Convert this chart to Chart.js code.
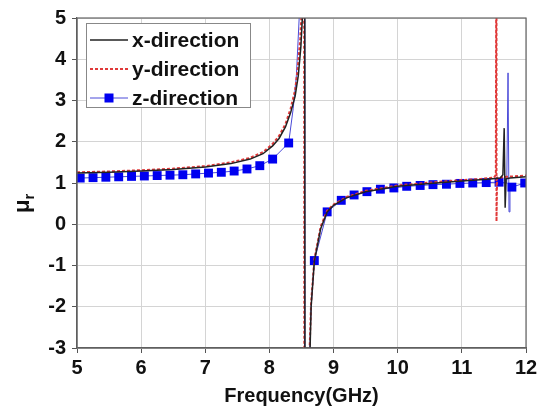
<!DOCTYPE html>
<html>
<head>
<meta charset="utf-8">
<script src="https://cdn.jsdelivr.net/npm/chart.js@4.4.1/dist/chart.umd.min.js"></script>
<style>
  html, body { margin: 0; padding: 0; background: #fff; }
  #wrap { width: 549px; height: 410px; }
</style>
</head>
<body>
<div id="wrap"><canvas id="mu" width="549" height="410"></canvas></div>
<script>
// x-direction (black solid)
const xFreq = [5.0, 5.5, 6.0, 6.5, 7.0, 7.4, 7.7, 7.9, 8.05, 8.15, 8.25, 8.33, 8.4, 8.45, 8.49, 8.52, 8.55, 8.555,
    8.61, 8.65, 8.7, 8.8, 8.9, 9.0, 9.2, 9.5, 10.0, 10.5, 11.0, 11.4, 11.6, 11.64, 11.66, 11.675, 11.69, 11.75, 12.0];
const xMu = [1.24, 1.26, 1.29, 1.33, 1.39, 1.47, 1.58, 1.71, 1.9, 2.08, 2.36, 2.7, 3.1, 3.6, 4.3, 5.2, 9, -9,
    -4.5, -2, -0.9, -0.1, 0.3, 0.46, 0.64, 0.79, 0.92, 0.99, 1.05, 1.09, 1.12, 1.2, 2.33, 0.4, 1.1, 1.12, 1.15];

// y-direction (red dashed)
const yFreq = [5.0, 5.5, 6.0, 6.5, 7.0, 7.4, 7.7, 7.9, 8.05, 8.15, 8.25, 8.33, 8.4, 8.44, 8.48, 8.51, 8.54, 8.545,
    8.6, 8.65, 8.7, 8.8, 8.9, 9.0, 9.2, 9.5, 10.0, 10.5, 11.0, 11.3, 11.5, 11.53, 11.54, 11.54, 11.55, 11.7, 12.0];
const yMu = [1.26, 1.28, 1.31, 1.35, 1.41, 1.5, 1.61, 1.75, 1.95, 2.14, 2.43, 2.8, 3.25, 3.75, 4.5, 5.4, 9, -9,
    -4.3, -1.9, -0.85, -0.05, 0.33, 0.48, 0.66, 0.81, 0.94, 1.01, 1.07, 1.1, 1.13, 1.2, 9, 0.07, 1.13, 1.15, 1.18];

// z-direction (blue line + square markers)
const zFreq = [5.05, 5.25, 5.45, 5.65, 5.85, 6.05, 6.25, 6.45, 6.65, 6.85, 7.05, 7.25, 7.45, 7.65, 7.85, 8.05, 8.3,
    8.37, 8.42, 8.47, 8.51, 8.545, 8.55, 8.61, 8.65, 8.7, 8.9, 9.12, 9.32, 9.52, 9.73, 9.94, 10.14, 10.35, 10.55,
    10.76, 10.97, 11.17, 11.38, 11.58, 11.7, 11.72, 11.735, 11.75, 11.78, 11.98, 12.0];
const zMu = [1.12, 1.13, 1.14, 1.15, 1.16, 1.17, 1.18, 1.19, 1.2, 1.22, 1.24, 1.26, 1.29, 1.34, 1.42, 1.58, 1.97,
    2.8, 3.6, 5.2, 7, 9, -9, -4, -2, -0.88, 0.3, 0.58, 0.71, 0.79, 0.85, 0.88, 0.92, 0.94, 0.96,
    0.97, 0.99, 1.0, 1.01, 1.02, 1.0, 3.67, 0.3, 0.85, 0.9, 1.0, 1.0];
const zMarkFreq = [5.05, 5.25, 5.45, 5.65, 5.85, 6.05, 6.25, 6.45, 6.65, 6.85, 7.05, 7.25, 7.45, 7.65, 7.85, 8.05, 8.3,
    8.7, 8.9, 9.12, 9.32, 9.52, 9.73, 9.94, 10.14, 10.35, 10.55, 10.76, 10.97, 11.17, 11.38, 11.58, 11.78, 11.98];

const seriesNames = ['x-direction', 'y-direction', 'z-direction'];

const pts = (fx, fy) => fx.map((f, i) => ({ x: f, y: fy[i] }));
const FONT = '"Liberation Sans", Arial, sans-serif';

// legend box, y-axis title and the frame
const decor = {
    id: 'decor',
    afterDatasetsDraw(chart) {
        const ctx = chart.ctx;
        const a = chart.chartArea;
        ctx.save();
        // frame
        ctx.strokeStyle = '#666';
        ctx.lineWidth = 1.2;
        ctx.strokeRect(a.left, a.top, a.right - a.left, a.bottom - a.top);

        // legend
        const bx = 86, by = 23, bw = 164, bh = 84;
        ctx.fillStyle = '#fff';
        ctx.fillRect(bx, by, bw, bh);
        ctx.strokeStyle = '#888';
        ctx.lineWidth = 1;
        ctx.strokeRect(bx + 0.5, by + 0.5, bw, bh);
        const rows = [40, 69, 98];
        ctx.font = 'bold 21px ' + FONT;
        ctx.textBaseline = 'middle';
        ctx.textAlign = 'left';
        chart.data.datasets.forEach((ds, i) => {
            const y = rows[i];
            ctx.beginPath();
            ctx.strokeStyle = ds.borderColor;
            ctx.lineWidth = ds.borderWidth;
            ctx.setLineDash(ds.borderDash || []);
            ctx.moveTo(90, y);
            ctx.lineTo(128, y);
            ctx.stroke();
            ctx.setLineDash([]);
            if (i === 2) {
                ctx.fillStyle = ds.pointBackgroundColor;
                ctx.fillRect(104.5, y - 4.5, 9, 9);
            }
            ctx.fillStyle = '#111';
            ctx.fillText(ds.label, 132, y + 1);
        });

        // y title: mu with subscript r
        ctx.translate(23, 205);
        ctx.rotate(-Math.PI / 2);
        ctx.fillStyle = '#111';
        ctx.textBaseline = 'alphabetic';
        ctx.font = 'bold 22px ' + FONT;
        ctx.fillText('\u03bc', -8, 6);
        const w = ctx.measureText('\u03bc').width;
        ctx.font = 'bold 15px ' + FONT;
        ctx.fillText('r', -8 + w, 11);
        ctx.restore();
    }
};

new Chart(document.getElementById('mu'), {
    type: 'scatter',
    data: {
        datasets: [{
            label: seriesNames[0],
            data: pts(xFreq, xMu),
            showLine: true,
            borderColor: '#222',
            borderWidth: 1.5,
            pointRadius: 0,
            tension: 0
        }, {
            label: seriesNames[1],
            data: pts(yFreq, yMu),
            showLine: true,
            borderColor: '#e03a3a',
            borderWidth: 2,
            borderDash: [3, 2],
            pointRadius: 0,
            tension: 0
        }, {
            label: seriesNames[2],
            data: pts(zFreq, zMu),
            showLine: true,
            borderColor: '#4a4ad8',
            borderWidth: 1,
            pointStyle: 'rect',
            pointBackgroundColor: '#0000f0',
            pointBorderColor: '#0000f0',
            pointBorderWidth: 0,
            pointRadius: c => (c.raw && zMarkFreq.includes(c.raw.x)) ? 6.3 : 0,
            tension: 0
        }]
    },
    options: {
        responsive: false,
        animation: false,
        layout: { padding: { top: 18, right: 23, left: 0, bottom: 0 } },
        plugins: {
            legend: { display: false },
            tooltip: { enabled: false }
        },
        scales: {
            x: {
                type: 'linear',
                min: 5,
                max: 12,
                afterFit: s => { s.height = 62; },
                ticks: { stepSize: 1, color: '#111', padding: 3, font: { family: FONT, size: 20, weight: 'bold' } },
                grid: { color: '#d4d4d4', tickColor: '#555', tickLength: 5 },
                border: { color: '#555', width: 1.2 },
                title: {
                    display: true,
                    text: 'Frequency(GHz)',
                    color: '#111',
                    padding: { top: 0, bottom: 2 },
                    font: { family: FONT, size: 20, weight: 'bold' }
                }
            },
            y: {
                min: -3,
                max: 5,
                afterFit: s => { s.width = 77; },
                ticks: { stepSize: 1, color: '#111', padding: 6, font: { family: FONT, size: 20, weight: 'bold' } },
                grid: { color: '#d4d4d4', tickColor: '#555', tickLength: 5 },
                border: { color: '#555', width: 1.2 }
            }
        }
    },
    plugins: [decor]
});
</script>
</body>
</html>
